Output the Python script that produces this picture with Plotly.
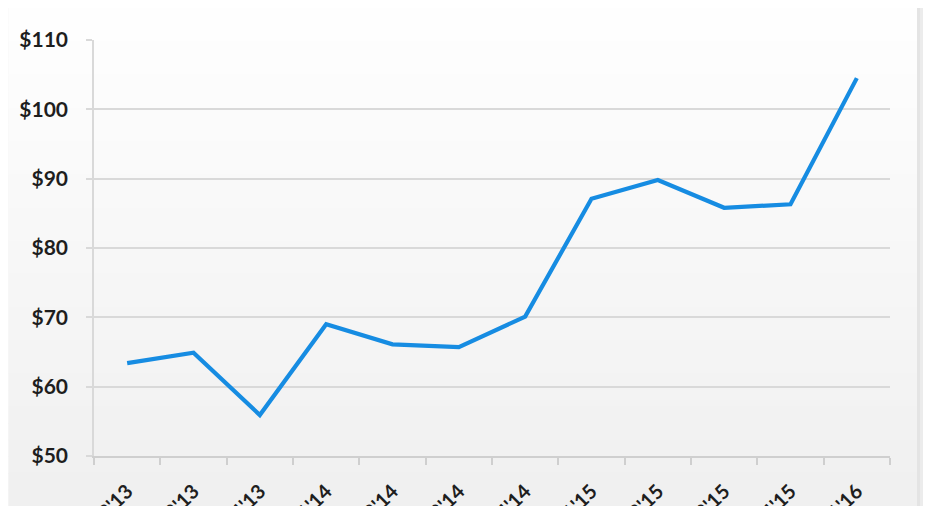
import plotly.graph_objects as go

quarters = ["Q2'13", "Q3'13", "Q4'13", "Q1'14", "Q2'14", "Q3'14", "Q4'14",
            "Q1'15", "Q2'15", "Q3'15", "Q4'15", "Q1'16"]
prices = [63.4, 64.9, 55.9, 69.0, 66.1, 65.7, 70.1, 87.1, 89.8, 85.8, 86.3, 104.5]
y_ticks = [50, 60, 70, 80, 90, 100, 110]
y_tick_labels = ["$50", "$60", "$70", "$80", "$90", "$100", "$110"]

# page is 931x506, but the html body has an 8px margin
OFF = 8
PW, PH = 931, 506
W, H = PW - OFF, PH - OFF
# plot area in page pixels
X0, X1, Y0, Y1 = 93.5, 890, 40, 456
L, R, T, B = X0 - OFF, PW - X1, Y0 - OFF, PH - Y1
pw, ph = X1 - X0, Y1 - Y0

def px_x(px):
    return (px - X0) / pw

def px_y(py):
    return (Y1 - py) / ph

fig = go.Figure()
fig.add_trace(go.Scatter(
    x=quarters, y=prices, mode="lines",
    line=dict(color="#168ce2", width=4.2),
    hoverinfo="skip", showlegend=False,
))

# subtle vertical gradient background
shapes = []
n = 30
for i in range(n):
    t = i / (n - 1)
    c = int(round(254 - 14 * t))
    ya = OFF + i * (PH - OFF) / n
    yb = OFF + (i + 1) * (PH - OFF) / n + 1
    shapes.append(dict(type="rect", xref="paper", yref="paper",
                       x0=px_x(OFF), x1=px_x(PW), y0=px_y(yb), y1=px_y(ya),
                       fillcolor=f"rgb({c},{c},{c})", line_width=0, layer="below"))
# right border strip
shapes.append(dict(type="rect", xref="paper", yref="paper",
                   x0=px_x(917), x1=px_x(PW), y0=px_y(PH), y1=px_y(OFF),
                   fillcolor="#e4e4e4", line_width=0, layer="below"))
shapes.append(dict(type="rect", xref="paper", yref="paper",
                   x0=px_x(920), x1=px_x(PW), y0=px_y(PH), y1=px_y(OFF),
                   fillcolor="#ececec", line_width=0, layer="below"))

fig.update_layout(
    width=W, height=H,
    margin=dict(l=L, r=R, t=T, b=B, autoexpand=False),
    paper_bgcolor="#f7f7f7",
    plot_bgcolor="rgba(0,0,0,0)",
    shapes=shapes,
    font=dict(family="Lato", color="#1e1e1e"),
    xaxis=dict(
        type="category", range=[-0.5, len(quarters) - 0.5],
        tickmode="array", tickvals=list(range(len(quarters))), ticktext=quarters,
        tickangle=-45, tickfont=dict(size=20, weight="bold", family="Lato"),
        showgrid=False, showline=True, linecolor="#cfcfcf", linewidth=1.5,
        ticks="outside", ticklen=7, tickcolor="#cfcfcf", tickwidth=1.5,
        tickson="boundaries", zeroline=False, ticklabelstandoff=14,
    ),
    yaxis=dict(
        range=[50, 110], tickmode="array", tickvals=y_ticks, ticktext=y_tick_labels,
        tickfont=dict(size=21, weight="bold", family="Lato"),
        showgrid=True, gridcolor="#d9d9d9", gridwidth=1.5,
        showline=True, linecolor="#d9d9d9", linewidth=1.5,
        ticks="outside", ticklen=6, tickcolor="#d9d9d9", tickwidth=1.5,
        ticklabelstandoff=14, zeroline=False,
    ),
)

fig.write_html("out.html")
